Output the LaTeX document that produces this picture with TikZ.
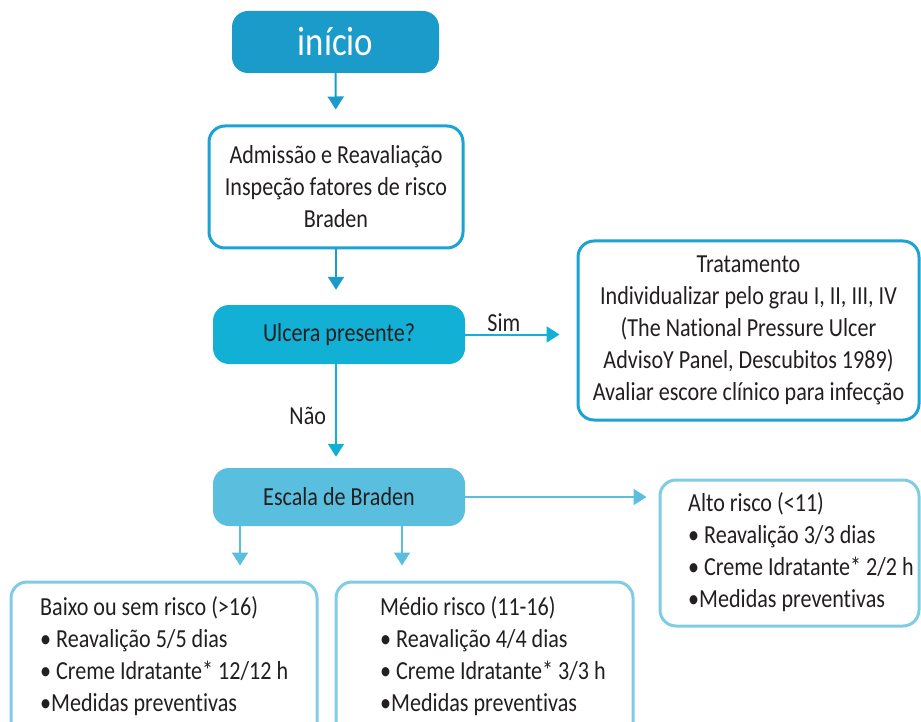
\documentclass[tikz,border=0pt]{standalone}
\usepackage{fontspec}
\setmainfont{Carlito}[FakeStretch=0.85,Ligatures=NoCommon]
\usetikzlibrary{arrows.meta}
\definecolor{startblue}{HTML}{1A9BCA}
\definecolor{askblue}{HTML}{12B0D4}
\definecolor{scaleblue}{HTML}{5ABFDE}
\definecolor{frameblue}{HTML}{1BA3D3}
\definecolor{riskblue}{HTML}{7FCCE5}
\definecolor{inkgray}{HTML}{231F20}
\begin{document}
\begin{tikzpicture}[x=1pt,y=-1pt,>={Triangle[width=16pt,length=13pt]}]
        \tikzstyle{flowtext}=[text=inkgray,font=\fontsize{26}{32}\selectfont]
        \tikzstyle{solidbox}=[flowtext,rectangle,rounded corners=16pt,inner sep=0pt]
        \tikzstyle{framebox}=[flowtext,rectangle,rounded corners=16pt,draw=frameblue,line width=3pt,fill=white,align=center,inner sep=0pt]
        \tikzstyle{riskbox}=[rectangle,rounded corners=16pt,draw=riskblue,line width=3pt,fill=white]
        \tikzstyle{risktext}=[flowtext,align=left,anchor=north west,inner sep=0pt]
        \tikzstyle{edge}=[draw,->,line width=2pt]
        \clip (0,0) rectangle (921,722);
        \useasboundingbox (0,0) rectangle (921,722);
       \begin{scope}
         \node [solidbox,fill=startblue,text=white,minimum width=207pt,minimum height=62pt,font=\fontsize{41}{41}\selectfont] (inicio) at (335.5,42) {início};
         \node [framebox,minimum width=254pt,minimum height=122pt] (admissao) at (336,187) {Admissão e Reavaliação\\Inspeção fatores de risco\\Braden};
         \node [solidbox,fill=askblue,minimum width=252pt,minimum height=59pt] (ulcera) at (339,334.5) {Ulcera presente?};
         \node [framebox,minimum width=341pt,minimum height=179pt] (tratamento) at (748.5,330.5) {Tratamento\\Individualizar pelo grau I, II, III, IV\\(The National Pressure Ulcer\\AdvisoY Panel, Descubitos 1989)\\Avaliar escore clínico para infecção};
         \node [solidbox,fill=scaleblue,minimum width=252pt,minimum height=58pt] (escala) at (339,497) {Escala de Braden};
         \node [riskbox,minimum width=259pt,minimum height=146pt] (alto) at (789.5,553) {};
         \node [riskbox,minimum width=306pt,minimum height=160pt] (baixo) at (164,662) {};
         \node [riskbox,minimum width=297pt,minimum height=160pt] (medio) at (484.5,662) {};
         \node [risktext] (altotxt) at (688,492) {Alto risco (<11)\\• Reavalição 3/3 dias\\• Creme Idratante* 2/2 h\\•Medidas preventivas};
         \node [risktext] (baixotxt) at (40,596) {Baixo ou sem risco (>16)\\• Reavalição 5/5 dias\\• Creme Idratante* 12/12 h\\•Medidas preventivas};
         \node [risktext] (mediotxt) at (380,596) {Médio risco (11-16)\\• Reavalição 4/4 dias\\• Creme Idratante* 3/3 h\\•Medidas preventivas};
         \coordinate (leftdrop) at (240,0);
         \coordinate (middrop) at (402,0);
         \path[edge,startblue,shorten >=15pt] (inicio) -- (admissao);
         \path[edge,startblue,shorten >=15pt] (admissao.south) -- (admissao.south |- ulcera.north);
         \path[edge,askblue,shorten >=17pt] (ulcera.east) -- node[above,flowtext,inner sep=2pt,xshift=-17pt] {Sim} (ulcera.east -| tratamento.west);
         \path[edge,askblue,shorten >=11pt] (ulcera.south -| admissao.south) -- node[left,flowtext,inner sep=9pt] {Não} (escala.north -| admissao.south);
         \path[edge,scaleblue,shorten >=12pt] (escala.east) -- (escala.east -| alto.west);
         \path[edge,scaleblue,shorten >=15pt] (escala.south -| leftdrop) -- (baixo.north -| leftdrop);
         \path[edge,scaleblue,shorten >=15pt] (escala.south -| middrop) -- (medio.north -| middrop);
        \end{scope}
      \end{tikzpicture}
\end{document}
